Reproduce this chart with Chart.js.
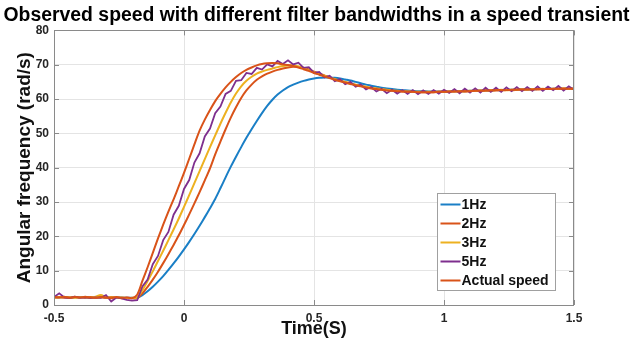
<!DOCTYPE html>
<html><head><meta charset="utf-8">
<script src="https://cdn.jsdelivr.net/npm/chart.js@4"></script>
<style>html,body{margin:0;padding:0;background:#fff}canvas{display:block}</style>
</head><body>
<canvas id="c" width="633" height="341"></canvas>
<script>
const times = [-0.5,-0.48,-0.46,-0.44,-0.42,-0.4,-0.38,-0.36,-0.34,-0.32,-0.3,-0.28,-0.26,-0.24,-0.22,-0.2,-0.18,-0.16,-0.14,-0.12,-0.1,-0.08,-0.06,-0.04,-0.02,0,0.02,0.04,0.06,0.08,0.1,0.12,0.14,0.16,0.18,0.2,0.22,0.24,0.26,0.28,0.3,0.32,0.34,0.36,0.38,0.4,0.42,0.44,0.46,0.48,0.5,0.52,0.54,0.56,0.58,0.6,0.62,0.64,0.66,0.68,0.7,0.72,0.74,0.76,0.78,0.8,0.82,0.84,0.86,0.88,0.9,0.92,0.94,0.96,0.98,1,1.02,1.04,1.06,1.08,1.1,1.12,1.14,1.16,1.18,1.2,1.22,1.24,1.26,1.28,1.3,1.32,1.34,1.36,1.38,1.4,1.42,1.44,1.46,1.48,1.5];

const seriesLabels = ['1Hz','2Hz','3Hz','5Hz','Actual speed'];

const oneHz = [2.2,2.2,2.3,2.2,2.2,2.3,2.2,2.2,2.2,2.3,2.2,2.2,2.1,2.2,2.1,2.1,
 2.1,2.9,4.0,5.3,6.8,8.4,10.2,12.1,14.1,16.2,18.4,20.7,23.1,25.6,28.2,30.9,34.0,37.2,40.3,43.2,46.0,48.7,51.2,53.6,55.9,58.0,59.8,61.3,62.5,63.5,64.2,64.8,65.3,65.7,66.0,
 66.2,66.3,66.3,66.2,66.0,65.7,65.4,65.0,64.6,64.2,63.9,63.6,63.3,63.1,62.9,62.7,62.6,62.5,62.4,62.3,62.3,62.2,62.2,62.2,62.2,
 62.2,62.3,62.3,62.3,62.4,62.4,62.5,62.5,62.5,62.6,62.6,62.7,62.7,62.7,62.8,62.8,62.8,62.9,62.9,62.9,63.0,63.0,63.0,63.0,63.0];

const twoHz = [2.2,2.3,2.1,2.2,2.4,2.2,2.1,2.3,2.2,2.2,2.1,2.3,2.2,2.0,2.1,2.0,
 2.0,3.4,5.3,7.4,9.7,12.2,14.8,17.5,20.3,23.3,26.4,29.6,32.9,36.3,39.8,43.9,47.6,51.2,54.6,57.6,60.3,62.5,64.2,65.6,66.6,67.4,68.0,68.5,68.9,69.2,69.4,69.4,69.1,68.6,68.0,
 67.4,66.9,66.3,65.8,65.3,64.9,64.5,64.1,63.8,63.5,63.2,63.0,62.8,62.6,62.4,62.3,62.2,62.1,62.1,62.0,62.0,62.0,62.0,62.1,62.1,
 62.1,62.2,62.3,62.2,62.3,62.4,62.4,62.5,62.5,62.5,62.6,62.7,62.6,62.7,62.8,62.8,62.9,62.8,62.9,63.0,62.9,63.0,63.1,63.0,63.0];

const threeHz = [2.1,2.2,2.3,2.2,2.1,2.2,2.3,2.1,2.4,2.9,2.3,2.2,2.1,2.2,2.0,2.1,
 2.2,4.3,7.0,9.8,12.8,15.8,18.9,22.0,25.2,28.6,32.0,35.5,39.0,42.5,46.0,49.4,52.8,56.0,59.0,61.6,63.7,65.3,66.5,67.4,68.0,68.5,68.9,69.3,69.6,69.8,69.8,69.5,69.0,68.4,67.8,
 67.3,66.8,66.3,65.8,65.4,65.0,64.6,64.2,63.9,63.6,63.3,63.1,62.9,62.7,62.5,62.4,62.3,62.2,62.2,62.1,62.1,62.1,62.1,62.1,62.2,
 62.2,62.3,62.2,62.3,62.4,62.4,62.5,62.5,62.6,62.6,62.7,62.6,62.7,62.8,62.8,62.8,62.9,62.9,63.0,62.9,63.0,63.0,63.1,63.0,63.1];

const fiveHz = [2.3,3.4,2.2,2.0,2.4,2.1,2.3,2.0,2.2,2.1,2.9,1.0,2.2,1.9,1.5,1.3,
 1.4,5.4,7.4,11.9,14.3,18.9,21.3,26.3,28.9,33.8,36.4,41.5,44.2,49.1,51.4,55.9,57.8,61.5,62.4,65.3,65.5,67.6,67.3,69.1,68.6,70.1,69.5,71.1,70.2,71.3,70.1,70.6,69.1,69.3,67.6,
 67.9,66.3,66.8,65.2,65.8,64.3,65.0,63.6,64.2,62.8,63.5,62.2,63.0,61.7,62.7,61.6,62.6,61.5,62.6,61.4,62.5,61.5,62.6,61.6,62.7,
 61.8,62.9,61.7,63.0,61.9,63.1,61.9,63.3,62.1,63.3,62.1,63.4,62.3,63.5,62.3,63.5,62.4,63.7,62.4,63.6,62.6,63.8,62.5,63.7,62.7];

const actualSpeed = [2.3,2.2,2.4,2.1,2.3,2.2,2.4,2.2,2.1,2.3,2.2,2.0,2.3,2.1,2.2,2.0,
 3.0,7.0,11.0,15.2,19.4,23.4,27.2,30.8,34.6,38.5,42.6,46.8,50.8,54.0,56.8,59.4,61.5,63.4,65.0,66.4,67.6,68.5,69.2,69.8,70.2,70.4,70.5,70.4,70.1,69.9,69.6,69.2,68.7,68.2,67.6,
 67.1,66.6,66.1,65.6,65.2,64.8,64.4,64.0,63.7,63.4,63.1,62.9,62.7,62.5,62.4,62.3,62.2,62.1,62.1,62.0,62.0,62.0,62.0,62.1,62.1,
 62.2,62.2,62.2,62.3,62.3,62.4,62.4,62.5,62.5,62.6,62.6,62.6,62.7,62.7,62.8,62.8,62.8,62.9,62.9,62.9,63.0,63.0,63.0,63.0,63.0];

const xTicks = [-0.5, 0, 0.5, 1, 1.5];
const xTickLabels = ['-0.5', '0', '0.5', '1', '1.5'];
const yTicks = [0, 10, 20, 30, 40, 50, 60, 70, 80];

const FONT = "'Liberation Sans', Arial, Helvetica, sans-serif";
const colors = ['#1a7fc6', '#d95319', '#edb120', '#7e2f8e', '#d95319'];
const allSeries = [oneHz, twoHz, threeHz, fiveHz, actualSpeed];

const datasets = allSeries.map((vals, k) => ({
  label: seriesLabels[k],
  data: times.map((t, i) => ({x: t, y: vals[i]})),
  borderColor: colors[k],
  backgroundColor: colors[k],
  borderWidth: k === 3 ? 1.8 : 2,
  pointRadius: 0,
  tension: k === 3 ? 0 : 0.3,
  fill: false,
  order: 5 - k
}));

const framePlugin = {
  id: 'frameLegend',
  afterDatasetsDraw(chart) {
    const {ctx, chartArea: a, scales} = chart;
    ctx.save();
    ctx.strokeStyle = '#8a8a8a';
    ctx.lineWidth = 1;
    ctx.strokeRect(Math.round(a.left) + 0.5, Math.round(a.top) + 0.5, Math.round(a.right - a.left) - 1, Math.round(a.bottom - a.top));
    ctx.beginPath();
    xTicks.forEach(v => {
      const px = Math.round(scales.x.getPixelForValue(v)) + 0.5;
      ctx.moveTo(px, a.bottom); ctx.lineTo(px, a.bottom - 5);
      ctx.moveTo(px, a.top); ctx.lineTo(px, a.top + 5);
    });
    yTicks.forEach(v => {
      const py = Math.round(scales.y.getPixelForValue(v)) + 0.5;
      ctx.moveTo(a.left, py); ctx.lineTo(a.left + 5, py);
      ctx.moveTo(a.right, py); ctx.lineTo(a.right - 5, py);
    });
    ctx.stroke();

    // legend box
    const w = 118, h = 97;
    const lx = Math.round(a.right - 19 - w) + 0.5;
    const ly = Math.round(a.bottom - 15 - h) + 0.5;
    ctx.fillStyle = '#fff';
    ctx.fillRect(lx, ly, w, h);
    ctx.strokeStyle = '#a0a0a0';
    ctx.strokeRect(lx, ly, w, h);
    ctx.font = 'bold 14px ' + FONT;
    ctx.textBaseline = 'middle';
    ctx.textAlign = 'left';
    chart.data.datasets.forEach((ds, k) => {
      const ry = ly + 11 + k * 19;
      ctx.strokeStyle = ds.borderColor;
      ctx.lineWidth = 2;
      ctx.beginPath();
      ctx.moveTo(lx + 3, ry); ctx.lineTo(lx + 23, ry);
      ctx.stroke();
      ctx.fillStyle = '#111';
      ctx.fillText(ds.label, lx + 24, ry + 0.5);
    });
    ctx.restore();
  }
};

new Chart(document.getElementById('c'), {
  type: 'line',
  data: { datasets },
  options: {
    responsive: false,
    animation: false,
    devicePixelRatio: 1,
    layout: { padding: 0 },
    plugins: {
      legend: { display: false },
      tooltip: { enabled: false },
      title: {
        display: true,
        text: 'Observed speed with different filter bandwidths in a speed transient',
        color: '#000',
        font: { family: FONT, size: 19.4, weight: 'bold', lineHeight: 1 },
        padding: { top: 6, bottom: 5 }
      }
    },
    scales: {
      x: {
        type: 'linear', position: 'bottom', min: -0.5, max: 1.5,
        afterBuildTicks: s => { s.ticks = xTicks.map(v => ({value: v})); },
        afterFit: s => { s.height = 36; },
        grid: { color: '#e4e4e4', drawTicks: false },
        border: { display: false },
        ticks: { color: '#262626', padding: 6, font: { family: FONT, size: 12, weight: 'bold' }, maxRotation: 0,
                 callback: (v) => { const i = xTicks.indexOf(v); return i >= 0 ? xTickLabels[i] : String(v); } },
        title: { display: true, text: 'Time(S)', color: '#111', font: { family: FONT, size: 18, weight: 'bold', lineHeight: 1 }, padding: { top: 0, bottom: 3 } }
      },
      y: {
        type: 'linear', position: 'left', min: 0, max: 80,
        afterBuildTicks: s => { s.ticks = yTicks.map(v => ({value: v})); },
        afterFit: s => { s.width = 54; },
        grid: { color: '#e4e4e4', drawTicks: false },
        border: { display: false },
        ticks: { color: '#262626', padding: 5, font: { family: FONT, size: 12, weight: 'bold' } },
        title: { display: true, text: 'Angular frequency (rad/s)', color: '#111', font: { family: FONT, size: 19, weight: 'bold', lineHeight: 1 }, padding: { top: 15, bottom: 0 } }
      },
      y2: {
        type: 'linear', position: 'right', min: 0, max: 80,
        afterFit: s => { s.width = 59; },
        grid: { display: false, drawOnChartArea: false },
        border: { display: false },
        ticks: { display: false }
      }
    }
  },
  plugins: [framePlugin]
});
</script>
</body></html>
